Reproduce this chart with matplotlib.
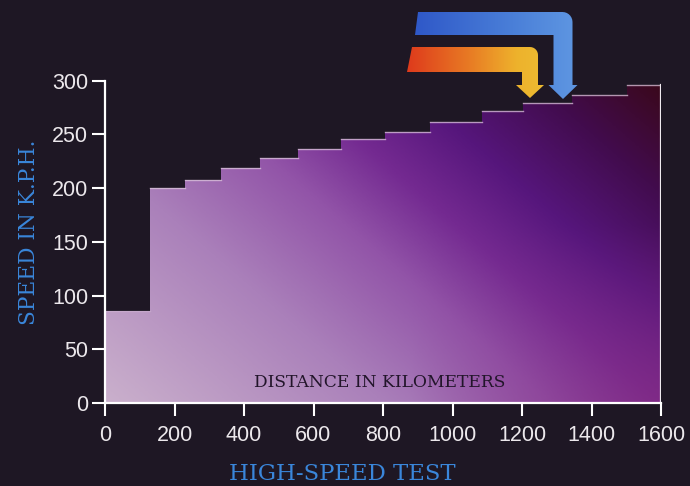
import numpy as np
import matplotlib
matplotlib.use("Agg")
import matplotlib.pyplot as plt
from matplotlib.patches import Polygon
from matplotlib.colors import LinearSegmentedColormap

# --- data -------------------------------------------------------------
distance_edges = [0, 130, 230, 334, 446, 555, 679, 806, 935, 1085, 1203, 1344, 1502, 1600]
speed_kph = [86, 200, 208, 219, 228, 236, 246, 252, 262, 272, 279, 287, 296]
x_ticks = [0, 200, 400, 600, 800, 1000, 1200, 1400, 1600]
y_ticks = [0, 50, 100, 150, 200, 250, 300]
x_tick_labels = [str(t) for t in x_ticks]
y_tick_labels = [str(t) for t in y_ticks]
y_title = "SPEED IN K.P.H."
x_title = "DISTANCE IN KILOMETERS"
chart_title = "HIGH-SPEED TEST"

# --- style ------------------------------------------------------------
W, H = 690, 486
BG = "#1e1724"
BLUE_TEXT = "#3a86da"
TICK_COLOR = "#ece8ec"
SERIF = ["DejaVu Serif"]
SANS = ["Liberation Sans", "DejaVu Sans"]

fig = plt.figure(figsize=(W / 100, H / 100), dpi=100, facecolor=BG)
ax = fig.add_axes([105 / W, 83 / H, 556 / W, 322.3 / H])
ax.set_facecolor(BG)

# stepped outline of the speed profile
verts = [(distance_edges[0], 0)]
for i, s in enumerate(speed_kph):
    verts += [(distance_edges[i], s), (distance_edges[i + 1], s)]
verts.append((distance_edges[-1], 0))
clip = Polygon(verts, closed=True, facecolor="none", edgecolor="none")
ax.add_patch(clip)

# diagonal lavender -> purple -> maroon wash inside the profile
fill_cmap = LinearSegmentedColormap.from_list(
    "wash",
    [(0.00, (202/255, 176/255, 204/255)),
     (0.30, (170/255, 128/255, 186/255)),
     (0.48, (146/255, 84/255, 168/255)),
     (0.60, (116/255, 42/255, 145/255)),
     (0.72, (86/255, 22/255, 124/255)),
     (0.86, (66/255, 12/255, 78/255)),
     (1.00, (58/255, 8/255, 26/255))])
u = np.linspace(0, 1, 480)
v = np.linspace(0, 1, 240)
U, V = np.meshgrid(u, v)
D = 0.6 * U + 0.4 * V
img = fill_cmap(D)
# magenta cast toward the lower right corner
w = np.clip((U - 0.55) / 0.45, 0, 1) * np.clip((0.55 - V) / 0.55, 0, 1)
magenta = np.array([135/255, 42/255, 128/255, 1.0])
img = img * (1 - 0.6 * w[..., None]) + magenta * (0.6 * w[..., None])
x_max = distance_edges[-1]
y_max = y_ticks[-1]
im = ax.imshow(img, extent=(0, x_max, 0, y_max), origin="lower",
               aspect="auto", interpolation="bilinear", zorder=1)
im.set_clip_path(clip)

# light rims along the step tops and the right-hand edge
for i, s in enumerate(speed_kph):
    ax.plot([distance_edges[i], distance_edges[i + 1]], [s, s],
            color="#dcc6dc", lw=1.0, alpha=0.75 if i else 0.35, zorder=2)
ax.plot([distance_edges[-1]] * 2, [0, speed_kph[-1]], color="#f0eaf0",
        lw=1.6, zorder=2)

ax.text(790, 19.5, x_title, ha="center", va="center", color="#22152a",
        fontsize=12.3, family=SERIF, zorder=3)

ax.set_xlim(0, x_max)
ax.set_ylim(0, y_max)
for side in ("top", "right"):
    ax.spines[side].set_visible(False)
for side in ("left", "bottom"):
    ax.spines[side].set_color("white")
    ax.spines[side].set_linewidth(1.6)
    ax.spines[side].set_zorder(4)
ax.set_xticks(x_ticks, x_tick_labels)
ax.set_yticks(y_ticks, y_tick_labels)
ax.tick_params(axis="both", colors="white", length=9.5, width=1.5,
               direction="out", labelcolor=TICK_COLOR, labelsize=15.5)
ax.tick_params(axis="x", pad=6)
ax.tick_params(axis="y", pad=2.5)
for lab in ax.get_xticklabels() + ax.get_yticklabels():
    lab.set_family(SANS)

fig.text(35 / W, 1 - 232.5 / H, y_title, rotation=90, rotation_mode="anchor",
         ha="center", va="baseline", color=BLUE_TEXT, fontsize=15.6,
         family=SERIF)
fig.text(342.5 / W, 6 / H, chart_title, ha="center", va="baseline",
         color=BLUE_TEXT, fontsize=16.4, family=SERIF)

# --- the two bent arrows pointing at the top steps -------------------
ov = fig.add_axes([0, 0, 1, 1], zorder=5)
ov.axis("off")
ov.patch.set_alpha(0)


def bent_arrow(tip_x, tip_y, top, bottom, left_top, left_bot,
               shaft_w, head_w, head_h, r):
    half = shaft_w / 2
    right = tip_x + half
    inner = tip_x - half
    head_y = tip_y - head_h
    pts = [(left_top, top), (right - r, top)]
    for a in np.linspace(np.pi / 2, 0, 8)[1:]:
        pts.append((right - r + r * np.cos(a), top + r - r * np.sin(a)))
    pts += [(right, head_y), (tip_x + head_w / 2, head_y), (tip_x, tip_y),
            (tip_x - head_w / 2, head_y), (inner, head_y), (inner, bottom),
            (left_bot, bottom)]
    return pts


def draw_gradient_arrow(pts, colors):
    poly = Polygon(pts, closed=True, facecolor="none", edgecolor="none")
    ov.add_patch(poly)
    xs = [p[0] for p in pts]
    ys = [p[1] for p in pts]
    cmap = LinearSegmentedColormap.from_list("a", colors)
    grad = cmap(np.linspace(0, 1, 256))[None, :, :]
    g = ov.imshow(grad, extent=(min(xs), max(xs), max(ys), min(ys)),
                  aspect="auto", interpolation="bilinear")
    g.set_clip_path(poly)


blue_pts = bent_arrow(563, 99, 12, 35, 418, 415, 19, 29, 14, 10)
orange_pts = bent_arrow(530, 98, 47, 72, 412, 407, 16, 28, 13, 8)
draw_gradient_arrow(blue_pts, [(0.0, "#2f58c8"), (0.6, "#4a7fd8"),
                               (1.0, "#5f97e2")])
draw_gradient_arrow(orange_pts, [(0.0, "#de3a1c"), (0.45, "#e87a24"),
                                 (0.8, "#eeb22c"), (1.0, "#ecbb32")])
ov.set_xlim(0, W)
ov.set_ylim(H, 0)

fig.savefig("out.png", dpi=100, facecolor=BG)
